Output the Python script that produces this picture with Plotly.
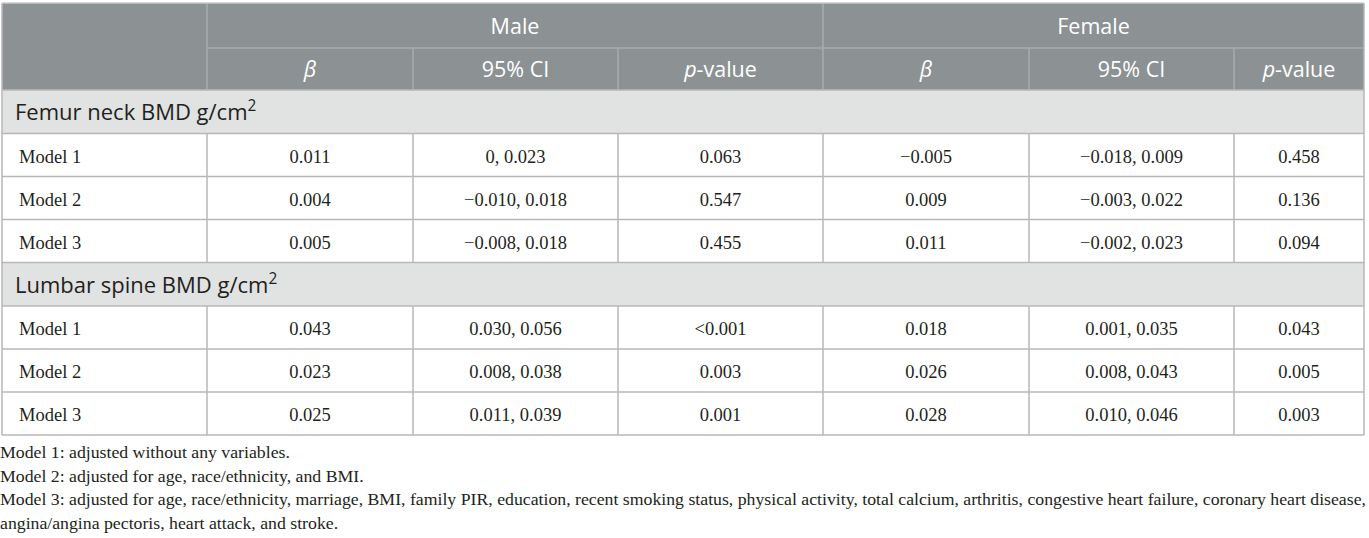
import plotly.graph_objects as go

# table content
groups = ["Male", "Female"]
stat_cols = ["<i>β</i>", "95% CI", "<i>p</i>-value"]
sections = ["Femur neck BMD g/cm<sup>2</sup>", "Lumbar spine BMD g/cm<sup>2</sup>"]
models = ["Model 1", "Model 2", "Model 3"]

femur_male_beta = ["0.011", "0.004", "0.005"]
femur_male_ci = ["0, 0.023", "−0.010, 0.018", "−0.008, 0.018"]
femur_male_p = ["0.063", "0.547", "0.455"]
femur_female_beta = ["−0.005", "0.009", "0.011"]
femur_female_ci = ["−0.018, 0.009", "−0.003, 0.022", "−0.002, 0.023"]
femur_female_p = ["0.458", "0.136", "0.094"]

lumbar_male_beta = ["0.043", "0.023", "0.025"]
lumbar_male_ci = ["0.030, 0.056", "0.008, 0.038", "0.011, 0.039"]
lumbar_male_p = ["<0.001", "0.003", "0.001"]
lumbar_female_beta = ["0.018", "0.026", "0.028"]
lumbar_female_ci = ["0.001, 0.035", "0.008, 0.043", "0.010, 0.046"]
lumbar_female_p = ["0.043", "0.005", "0.003"]

footnotes = [
    "Model 1: adjusted without any variables.",
    "Model 2: adjusted for age, race/ethnicity, and BMI.",
    "Model 3: adjusted for age, race/ethnicity, marriage, BMI, family PIR, education, recent smoking status, "
    "physical activity, total calcium, arthritis, congestive heart failure, coronary heart disease,",
    "angina/angina pectoris, heart attack, and stroke.",
]

section_rows = [
    [femur_male_beta, femur_male_ci, femur_male_p, femur_female_beta, femur_female_ci, femur_female_p],
    [lumbar_male_beta, lumbar_male_ci, lumbar_male_p, lumbar_female_beta, lumbar_female_ci, lumbar_female_p],
]

# layout in pixel units
W, H = 1369, 538
col_edges = [2, 207, 413, 618, 823, 1029, 1234, 1364]
head_top, head_mid, head_bot = 3, 48, 90
sec_h, row_h = 43.5, 43
dy = 3  # plotly centres text a bit high

HEAD_BG = "#8c9194"
HEAD_LINE = "#a9adaf"
SEC_BG = "#e1e2e2"
GRID = "#b7b7b7"
TXT = "#231f20"
SANS = "Open Sans, Noto Sans, sans-serif"
SERIF = "Liberation Serif, Times New Roman, serif"

fig = go.Figure()
shapes = []


def hline(x0, x1, y, color, w=1.5):
    shapes.append(dict(type="line", x0=x0, x1=x1, y0=y, y1=y, line=dict(color=color, width=w)))


def vline(x, y0, y1, color, w=1.5):
    shapes.append(dict(type="line", x0=x, x1=x, y0=y0, y1=y1, line=dict(color=color, width=w)))


def add_text(xs, ys, texts, font, pos="middle center"):
    fig.add_trace(go.Scatter(
        x=xs, y=[v + dy for v in ys], text=[t.replace("<0", "&lt;0") for t in texts], mode="text",
        textposition=pos, textfont=font, hoverinfo="skip", showlegend=False,
    ))


# header block
shapes.append(dict(type="rect", x0=col_edges[0], x1=col_edges[-1], y0=head_top, y1=head_bot,
                   fillcolor=HEAD_BG, line=dict(width=0), layer="below"))
hline(col_edges[1], col_edges[-1], head_mid, HEAD_LINE)
for i, x in enumerate(col_edges[1:-1]):
    vline(x, head_top if i in (0, 3) else head_mid, head_bot, HEAD_LINE)

head_font = dict(family=SANS, size=21.5, color="white")
add_text([(col_edges[1] + col_edges[4]) / 2, (col_edges[4] + col_edges[7]) / 2],
         [(head_top + head_mid) / 2] * 2, groups, head_font)
centers = [(col_edges[i] + col_edges[i + 1]) / 2 for i in range(1, 7)]
add_text(centers, [(head_mid + head_bot) / 2] * 6, stat_cols * 2, head_font)

# body
y = head_bot
for s, label in enumerate(sections):
    shapes.append(dict(type="rect", x0=col_edges[0], x1=col_edges[-1], y0=y, y1=y + sec_h,
                       fillcolor=SEC_BG, line=dict(width=0), layer="below"))
    add_text([col_edges[0] + 13], [y + sec_h / 2], [label],
             dict(family=SANS, size=22, color=TXT), pos="middle right")
    hline(col_edges[0], col_edges[-1], y, GRID)
    y += sec_h
    for r, m in enumerate(models):
        hline(col_edges[0], col_edges[-1], y, GRID)
        for x in col_edges[1:-1]:
            vline(x, y, y + row_h, GRID)
        cy = y + row_h / 2
        add_text([col_edges[0] + 17], [cy], [m],
                 dict(family=SERIF, size=18.5, color=TXT), pos="middle right")
        add_text(centers, [cy] * 6, [col[r] for col in section_rows[s]],
                 dict(family=SERIF, size=18.5, color=TXT))
        y += row_h
hline(col_edges[0], col_edges[-1], y, GRID)
vline(col_edges[0], head_top, y, GRID)
vline(col_edges[-1], head_top, y, GRID)
hline(col_edges[0], col_edges[-1], head_top, "#c8c8c8")

# footnotes
foot_y = [451 + 23.5 * i for i in range(len(footnotes))]
add_text([col_edges[0] - 2] * len(footnotes), foot_y, footnotes,
         dict(family=SERIF, size=17.75, color=TXT), pos="middle right")

fig.update_layout(
    width=W, height=H, margin=dict(l=0, r=0, t=0, b=0),
    paper_bgcolor="white", plot_bgcolor="white",
    xaxis=dict(range=[0, W], visible=False, fixedrange=True),
    yaxis=dict(range=[H, 0], visible=False, fixedrange=True),
    shapes=shapes,
)

# drop the default page margin so the figure fills the window
fig.write_html("out.html", config={"displayModeBar": False},
               post_script="document.body.style.margin='0';")
